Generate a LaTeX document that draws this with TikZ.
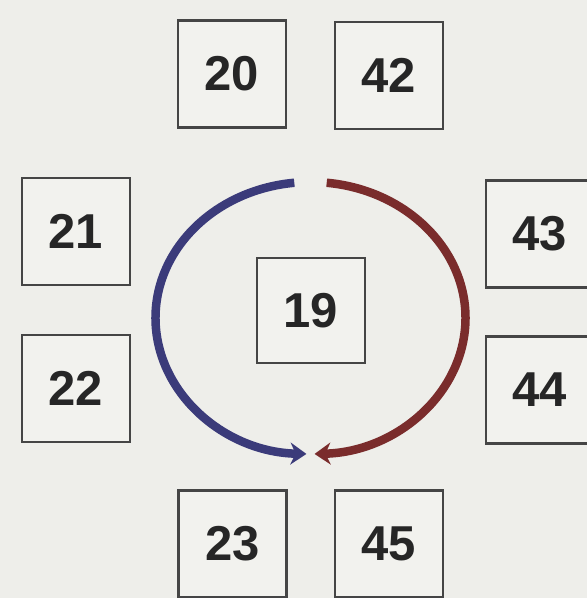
\documentclass[tikz,border=0pt]{standalone}
\usepackage{fontspec}
\setmainfont{Liberation Sans}
\usetikzlibrary{arrows.meta,calc}
\definecolor{bg}{HTML}{EEEEEA}
\definecolor{boxfill}{HTML}{F2F2EE}
\definecolor{boxline}{HTML}{454545}
\definecolor{arcblue}{HTML}{3B3B7A}
\definecolor{arcred}{HTML}{7A2C2C}
\tikzset{
  numbox/.style={draw=boxline, fill=boxfill, line width=2.6pt, minimum width=108pt, minimum height=107pt, inner sep=0pt, font=\fontsize{49}{49}\selectfont\bfseries, text=black!85},
  arcline/.style={line width=8.5pt, -{Stealth[length=16pt,width=22pt]}}
}
\begin{document}
\begin{tikzpicture}[x=1pt,y=1pt]
\fill[bg] (0,0) rectangle (587,598);
\useasboundingbox (0,0) rectangle (587,598);
\node[numbox] (n20) at (232,524) {20};
\node[numbox] (n42) at (389,522.5) {42};
\node[numbox] (n21) at (76,366.5) {21};
\node[numbox] (n22) at (76,209.5) {22};
\node[numbox] (n43) at (540,364) {43};
\node[numbox] (n44) at (540,208) {44};
\node[numbox, minimum height=105pt] (n19) at (311,287.5) {19};
\node[numbox] (n23) at (232.5,54) {23};
\node[numbox] (n45) at (389,54) {45};
\coordinate (c) at (310.5,280);
\draw[arcline, arcblue] ($(c)+(96:155 and 136)$) arc[start angle=96, end angle=268.5, x radius=155, y radius=136];
\draw[arcline, arcred] ($(c)+(84:155 and 136)$) arc[start angle=84, end angle=-88.5, x radius=155, y radius=136];
\end{tikzpicture}
\end{document}
